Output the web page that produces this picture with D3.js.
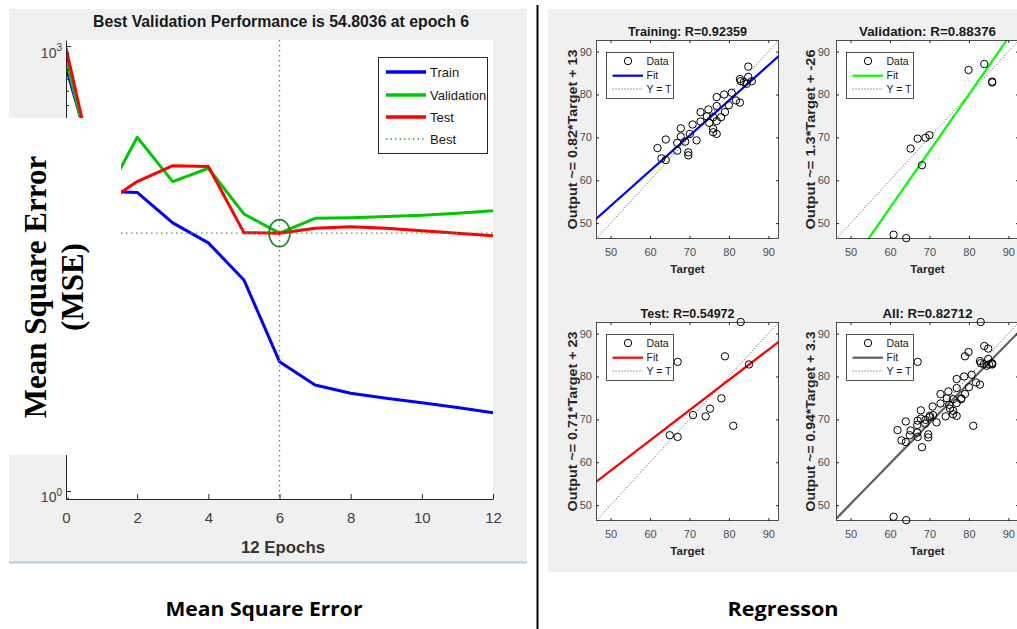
<!DOCTYPE html>
<html lang="en">
<head>
<meta charset="utf-8">
<script src="https://d3js.org/d3.v7.min.js"></script>
<style>
  body { margin: 0; background: #fff; }
  svg text { font-family: "Liberation Sans", Arial, sans-serif; }
</style>
</head>
<body>
<svg id="chart" width="1017" height="629"></svg>
<script>
// ---- performance curve (MSE per epoch, log scale) ----
var epochs   = [0, 1, 2, 3, 4, 5, 6, 7, 8, 9, 10, 11, 12];
var trainMse = [723, 105, 103, 64.2, 47.1, 26.5, 7.45, 5.18, 4.56, 4.22, 3.94, 3.65, 3.37];
var valMse   = [818, 86.1, 243, 122, 150, 73.8, 54.8036, 69.0, 69.6, 70.8, 72.3, 74.6, 77.6];
var testMse  = [971, 84.2, 122, 156, 154, 55.2, 54.7, 59.1, 60.6, 59.1, 56.9, 54.7, 52.7];
var bestEpoch = 6, bestMse = 54.8036;
var epochTicks = [0, 2, 4, 6, 8, 10, 12];
var mseTicks   = [1, 10, 100, 1000];
var mseTickExp = ["0", "1", "2", "3"];
var perfLegend = ["Train", "Validation", "Test", "Best"];

// ---- regression data (target, output) ----
var trainTarget = [61.9,64.0,62.9,64.0,66.9,66.9,67.8,67.8,68.9,69.7,69.7,70.8,70.1,71.8,72.8,72.8,74.8,75.0,76.0,76.0,76.0,76.9,76.9,76.9,76.9,78.0,78.8,79.0,80.0,80.7,81.8,82.8,82.8,83.0,83.8,84.9,84.9,85.8,84.5,74.4];
var trainOutput = [67.5,69.5,65.1,64.7,68.7,66.9,72.1,70.2,69.0,66.5,65.8,73.0,70.8,69.3,75.9,73.7,76.5,73.4,74.7,72.0,71.2,79.4,77.3,73.8,70.8,74.7,80.0,75.9,77.5,80.4,78.6,78.1,83.6,83.1,82.9,86.5,84.1,83.1,82.5,74.9];
var valTarget = [60.9,64.1,65.2,67.0,69.0,70.0,68.1,79.9,83.9,85.9,85.9];
var valOutput = [47.3,46.5,67.4,69.7,69.9,70.5,63.5,85.7,87.1,82.8,83.0];
var testTarget = [65.0,67.0,67.0,70.9,74.1,75.2,78.1,79.0,81.1,83.0,85.1];
var testOutput = [66.3,65.9,83.4,71.0,70.7,72.5,74.9,84.7,68.5,92.7,82.8];

var panelTitles = ["Training: R=0.92359", "Validation: R=0.88376", "Test: R=0.54972", "All: R=0.82712"];
var fitLabels   = ["Output ~= 0.82*Target + 13", "Output ~= 1.3*Target + -26", "Output ~= 0.71*Target + 23", "Output ~= 0.94*Target + 3.3"];
var fitSlope     = [0.82, 1.32, 0.705, 0.94];
var fitIntercept = [13, -25.6, 22.8, 3.3];
var regTicks = [50, 60, 70, 80, 90];
var regLegend = ["Data", "Fit", "Y = T"];

var svg = d3.select("#chart");
var axisColor = "#262626", tickText = "#404040";

svg.append("rect").attr("width", 1017).attr("height", 629).attr("fill", "#fff");

// ================= left figure =================
svg.append("rect").attr("x", 9).attr("y", 9).attr("width", 518).attr("height", 553).attr("fill", "#f0f0f0");
svg.append("line").attr("x1", 9).attr("x2", 527).attr("y1", 562.5).attr("y2", 562.5)
  .attr("stroke", "#aecbe8").attr("stroke-width", 2);

var x = d3.scaleLinear().domain([0, 12]).range([66, 493]);
var y = d3.scaleLog().domain([0.883, 1099]).range([499, 40]);

svg.append("rect").attr("x", 66).attr("y", 40).attr("width", 427).attr("height", 459).attr("fill", "#fff");
svg.append("clipPath").attr("id", "perfClip").append("rect")
  .attr("x", 66).attr("y", 40).attr("width", 427).attr("height", 459);

var perfLine = d3.line().x(function(d, i) { return x(epochs[i]); }).y(function(d) { return y(d); });
var series = [[trainMse, "#0000ff"], [valMse, "#00c800"], [testMse, "#ff0000"]];
var lines = svg.append("g").attr("clip-path", "url(#perfClip)");
series.forEach(function(s) {
  lines.append("path").datum(s[0]).attr("d", perfLine)
    .attr("fill", "none").attr("stroke", s[1]).attr("stroke-width", 3).attr("stroke-linejoin", "round");
});

// best markers
var bestColor = "#33aa33";
lines.append("line").attr("x1", x(bestEpoch)).attr("x2", x(bestEpoch)).attr("y1", 40).attr("y2", 499)
  .attr("stroke", bestColor).attr("stroke-width", 1.3).attr("stroke-dasharray", "1.5,3.5");
lines.append("line").attr("x1", 66).attr("x2", 493).attr("y1", y(bestMse)).attr("y2", y(bestMse))
  .attr("stroke", bestColor).attr("stroke-width", 1.3).attr("stroke-dasharray", "1.5,3.5");
svg.append("ellipse").attr("cx", x(bestEpoch)).attr("cy", y(bestMse)).attr("rx", 10.5).attr("ry", 13.5)
  .attr("fill", "none").attr("stroke", "#168a16").attr("stroke-width", 1.6);

// axes
var xAxis = svg.append("g").attr("transform", "translate(0,499)")
  .call(d3.axisBottom(x).tickValues(epochTicks).tickSize(-5).tickSizeOuter(0).tickPadding(13));
xAxis.attr("color", axisColor).attr("font-family", null).attr("font-size", 15);
xAxis.selectAll("text").attr("fill", tickText);

var yAxis = svg.append("g").attr("transform", "translate(66,0)")
  .call(d3.axisLeft(y).tickValues(mseTicks).tickSize(-5).tickSizeOuter(0).tickFormat(""));
yAxis.attr("color", axisColor);
var minor = y.ticks().filter(function(v) { return Math.abs(Math.log10(v) % 1) > 1e-6; });
var yMinor = svg.append("g").attr("transform", "translate(66,0)")
  .call(d3.axisLeft(y).tickValues(minor).tickSize(-3).tickSizeOuter(0).tickFormat(""));
yMinor.attr("color", axisColor);
yMinor.select(".domain").remove();

var yLab = svg.append("g").selectAll("text").data(mseTicks).enter().append("text")
  .attr("x", 62).attr("y", function(d) { return y(d) + 11.5; })
  .attr("text-anchor", "end").attr("fill", tickText).attr("font-size", 14);
yLab.append("tspan").text("10");
yLab.append("tspan").attr("dy", -6.5).attr("font-size", 10).text(function(d, i) { return mseTickExp[i]; });

// legend
var lg = svg.append("g");
lg.append("rect").attr("x", 378.5).attr("y", 57.5).attr("width", 109).attr("height", 96)
  .attr("fill", "#fff").attr("stroke", axisColor).attr("stroke-width", 1);
var lgColors = ["#0000ff", "#00c800", "#ff0000", bestColor];
var lgY = [72, 95, 117, 139];
perfLegend.forEach(function(name, i) {
  var l = lg.append("line").attr("x1", 386).attr("x2", 426).attr("y1", lgY[i]).attr("y2", lgY[i])
    .attr("stroke", lgColors[i]).attr("stroke-width", i < 3 ? 3.5 : 1.3);
  if (i === 3) l.attr("stroke-dasharray", "1.5,3");
  lg.append("text").attr("x", 430).attr("y", lgY[i]).attr("dy", "0.36em")
    .attr("font-size", 13).attr("fill", "#1a1a1a").text(name);
});

// title and x label
svg.append("text").attr("x", 281).attr("y", 27).attr("text-anchor", "middle")
  .attr("font-size", 16).attr("font-weight", "bold").attr("fill", "#1a1a1a")
  .attr("textLength", 376).attr("lengthAdjust", "spacingAndGlyphs")
  .text("Best Validation Performance is 54.8036 at epoch 6");
svg.append("text").attr("x", 283).attr("y", 553).attr("text-anchor", "middle")
  .attr("font-size", 16).attr("font-weight", "bold").attr("fill", "#333")
  .attr("textLength", 84).attr("lengthAdjust", "spacingAndGlyphs").text("12 Epochs");

// white patch with pasted y label
svg.append("rect").attr("x", 0).attr("y", 118).attr("width", 121).attr("height", 337).attr("fill", "#fff");
svg.append("text").attr("transform", "translate(46,287) rotate(-90)").attr("text-anchor", "middle")
  .style("font-family", "'Liberation Serif', 'Times New Roman', serif")
  .attr("font-size", 31).attr("font-weight", "bold").attr("fill", "#000").text("Mean Square Error");
svg.append("text").attr("transform", "translate(83,287) rotate(-90)").attr("text-anchor", "middle")
  .style("font-family", "'Liberation Serif', 'Times New Roman', serif")
  .attr("font-size", 31).attr("font-weight", "bold").attr("fill", "#000").text("(MSE)");

// ================= divider =================
svg.append("line").attr("x1", 537.5).attr("x2", 537.5).attr("y1", 5).attr("y2", 629)
  .attr("stroke", "#000").attr("stroke-width", 2);

// ================= right figure =================
svg.append("rect").attr("x", 548).attr("y", 9).attr("width", 469).attr("height", 563).attr("fill", "#f0f0f0");

var regDomain = [46.3, 92.7];
var regX0 = [596, 836], regY0 = [40, 322], regW = 183, regH = 199;
var titleWidths = [119, 137, 94, 90];
var yLabelShift = [-19, -21];
var yTickPad = [4, 6];
var fitColors = ["#0000ff", "#00ff00", "#ff0000", "#5f5f5f"];
var targets = [trainTarget, valTarget, testTarget, trainTarget.concat(valTarget, testTarget)];
var outputs = [trainOutput, valOutput, testOutput, trainOutput.concat(valOutput, testOutput)];

targets.forEach(function(tgt, p) {
  var col = p % 2, row = Math.floor(p / 2);
  var g = svg.append("g").attr("transform", "translate(" + regX0[col] + "," + regY0[row] + ")");
  var rx = d3.scaleLinear().domain(regDomain).range([0, regW]);
  var ry = d3.scaleLinear().domain(regDomain).range([regH, 0]);
  var out = outputs[p];

  g.append("rect").attr("width", regW).attr("height", regH).attr("fill", "#fff");
  g.append("clipPath").attr("id", "regClip" + p).append("rect").attr("width", regW).attr("height", regH);
  var inner = g.append("g").attr("clip-path", "url(#regClip" + p + ")");

  // Y = T
  inner.append("line").attr("x1", rx(regDomain[0])).attr("y1", ry(regDomain[0]))
    .attr("x2", rx(regDomain[1])).attr("y2", ry(regDomain[1]))
    .attr("stroke", "#333").attr("stroke-width", 0.9).attr("stroke-dasharray", "1,2");
  // fit
  inner.append("line")
    .attr("x1", rx(regDomain[0])).attr("y1", ry(fitSlope[p] * regDomain[0] + fitIntercept[p]))
    .attr("x2", rx(regDomain[1])).attr("y2", ry(fitSlope[p] * regDomain[1] + fitIntercept[p]))
    .attr("stroke", fitColors[p]).attr("stroke-width", 2.2);

  // axes
  var ax = [
    [d3.axisBottom(rx).tickPadding(9), "translate(0," + regH + ")", true],
    [d3.axisLeft(ry).tickPadding(yTickPad[col]), "translate(0,0)", true],
    [d3.axisTop(rx), "translate(0,0)", false],
    [d3.axisRight(ry), "translate(" + regW + ",0)", false]
  ];
  ax.forEach(function(a) {
    var axis = a[0].tickValues(regTicks).tickSize(-3).tickSizeOuter(0);
    if (!a[2]) axis.tickFormat("");
    var ag = g.append("g").attr("transform", a[1]).call(axis);
    ag.attr("color", axisColor).attr("font-family", null).attr("font-size", 11);
    ag.select(".domain").remove();
    ag.selectAll("text").attr("fill", "#4d4d4d");
  });
  g.append("rect").attr("x", 0.5).attr("y", 0.5).attr("width", regW - 1).attr("height", regH - 1)
    .attr("fill", "none").attr("stroke", axisColor).attr("stroke-width", 0.8);

  // data circles
  g.append("g").selectAll("circle").data(tgt).enter().append("circle")
    .attr("cx", function(d) { return rx(d); })
    .attr("cy", function(d, i) { return ry(out[i]); })
    .attr("r", 3.7).attr("fill", "none").attr("stroke", "#000").attr("stroke-width", 1);

  // legend
  var lgd = g.append("g").attr("transform", "translate(10,12)");
  lgd.append("rect").attr("x", 0.5).attr("y", 0.5).attr("width", 67).attr("height", 46)
    .attr("fill", "#fff").attr("stroke", axisColor).attr("stroke-width", 0.8);
  lgd.append("circle").attr("cx", 22).attr("cy", 9).attr("r", 3.7)
    .attr("fill", "none").attr("stroke", "#000").attr("stroke-width", 1);
  lgd.append("line").attr("x1", 6.5).attr("x2", 37).attr("y1", 23.7).attr("y2", 23.7)
    .attr("stroke", fitColors[p]).attr("stroke-width", 2.2);
  lgd.append("line").attr("x1", 6.5).attr("x2", 37).attr("y1", 37).attr("y2", 37)
    .attr("stroke", "#333").attr("stroke-width", 0.9).attr("stroke-dasharray", "1,2");
  regLegend.forEach(function(name, i) {
    lgd.append("text").attr("x", 40.5).attr("y", 9 + i * 14).attr("dy", "0.36em")
      .attr("font-size", 10.5).attr("fill", "#1a1a1a").text(name);
  });

  // labels
  g.append("text").attr("x", regW / 2).attr("y", -4).attr("text-anchor", "middle")
    .attr("font-size", 12.5).attr("font-weight", "bold").attr("fill", "#1a1a1a")
    .attr("textLength", titleWidths[p]).attr("lengthAdjust", "spacingAndGlyphs").text(panelTitles[p]);
  g.append("text").attr("x", regW / 2).attr("y", regH + 34).attr("text-anchor", "middle")
    .attr("font-size", 11.5).attr("font-weight", "bold").attr("fill", "#262626").text("Target");
  g.append("text").attr("transform", "translate(" + yLabelShift[col] + "," + regH / 2 + ") rotate(-90)")
    .attr("text-anchor", "middle").attr("font-size", 12.5).attr("font-weight", "bold").attr("fill", "#262626")
    .attr("textLength", 180).attr("lengthAdjust", "spacingAndGlyphs").text(fitLabels[p]);
});

// ================= captions =================
svg.append("text").attr("x", 264).attr("y", 616).attr("text-anchor", "middle")
  .style("font-family", "'Open Sans', 'Noto Sans', sans-serif")
  .attr("font-size", 20).attr("font-weight", "bold").attr("fill", "#000")
  .attr("textLength", 197).attr("lengthAdjust", "spacingAndGlyphs").text("Mean Square Error");
svg.append("text").attr("x", 783).attr("y", 616).attr("text-anchor", "middle")
  .style("font-family", "'Open Sans', 'Noto Sans', sans-serif")
  .attr("font-size", 20).attr("font-weight", "bold").attr("fill", "#000")
  .attr("textLength", 111).attr("lengthAdjust", "spacingAndGlyphs").text("Regresson");
</script>
</body>
</html>
